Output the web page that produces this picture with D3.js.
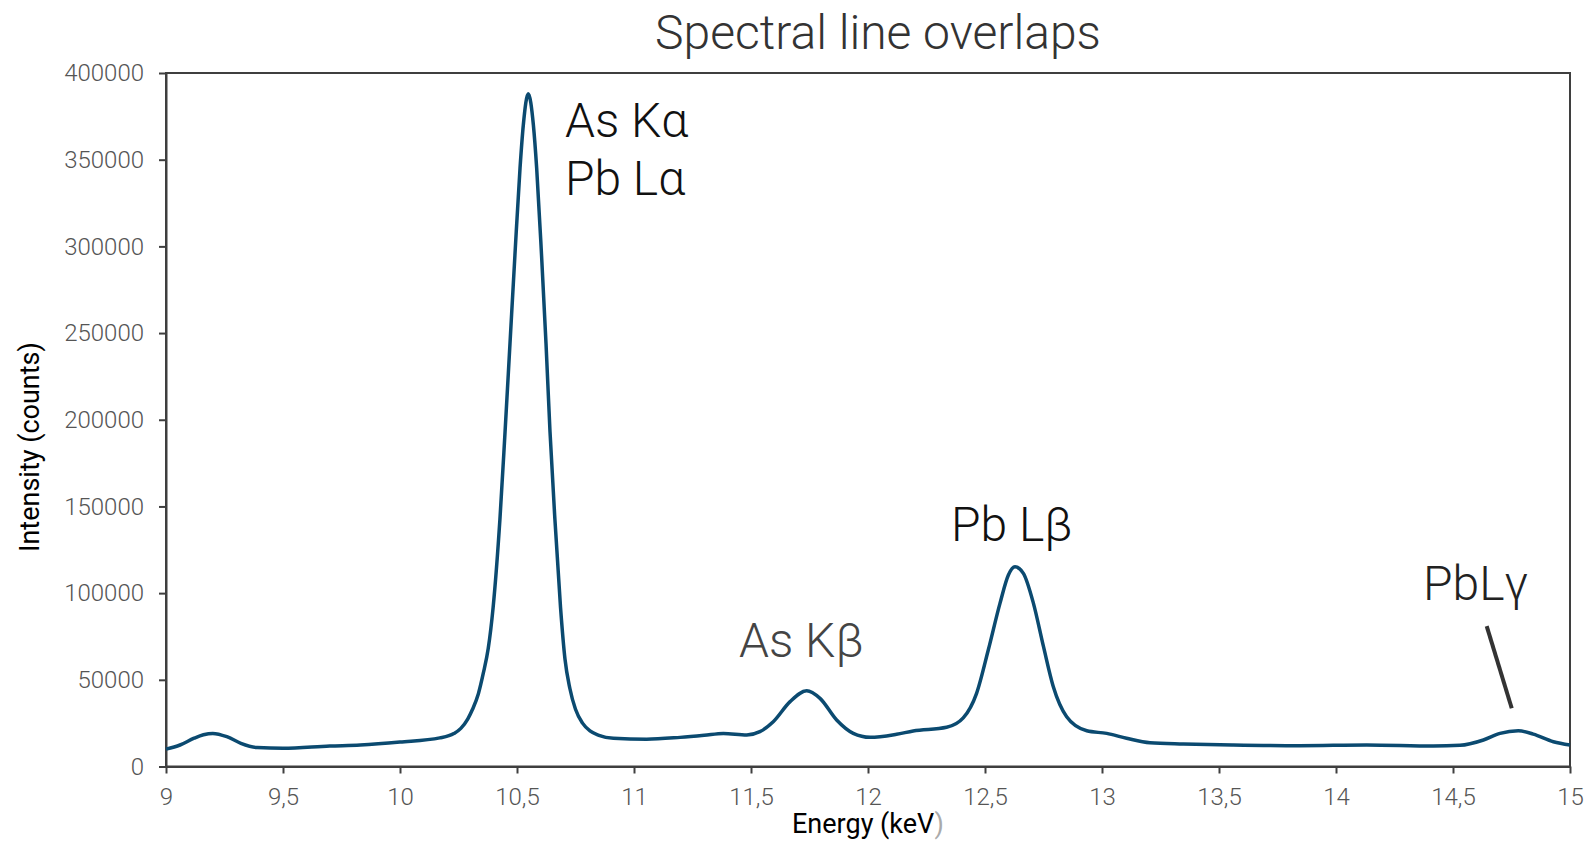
<!DOCTYPE html>
<html>
<head>
<meta charset="utf-8">
<script src="https://cdn.jsdelivr.net/npm/d3@7"></script>
<style>
  html, body { margin: 0; padding: 0; background: #fff; }
  svg { display: block; font-family: Roboto, "Noto Sans", sans-serif; }
</style>
</head>
<body>
<svg id="chart" width="1587" height="842"></svg>
<script>
// Measured XRF spectrum: energy (keV) and intensity (counts)
const energy = [
  9.00, 9.06, 9.12, 9.16, 9.20, 9.26, 9.32, 9.39, 9.50, 9.70, 9.83, 10.00,
  10.17, 10.23, 10.26, 10.29, 10.31, 10.335, 10.356, 10.377, 10.398, 10.427,
  10.449, 10.47, 10.491, 10.513, 10.527, 10.548, 10.570, 10.584, 10.605,
  10.624, 10.641, 10.662, 10.686, 10.705, 10.726, 10.75, 10.78, 10.812,
  10.85, 10.912, 11.054, 11.197, 11.30, 11.382, 11.482, 11.538, 11.595,
  11.667, 11.738, 11.795, 11.866, 11.937, 12.009, 12.122, 12.193, 12.336,
  12.407, 12.464, 12.514, 12.564, 12.600, 12.628, 12.664, 12.707, 12.750,
  12.792, 12.849, 12.935, 13.02, 13.105, 13.205, 13.348, 13.561, 13.846,
  14.131, 14.416, 14.53, 14.63, 14.701, 14.779, 14.843, 14.929, 15.00
];
const counts = [
  10000, 12400, 16300, 18300, 19100, 17200, 13400, 10900, 10500, 11800, 12400, 14100,
  16500, 19000, 22000, 27500, 33000, 42000, 53800, 68000, 91800, 142500,
  193200, 243900, 294600, 345300, 370000, 388000, 370000, 345300, 294600,
  243900, 193200, 142500, 91800, 62000, 45000, 33000, 25000, 20500,
  18000, 16300, 15700, 16800, 18000, 19100, 18200, 20100, 25800,
  37400, 43700, 39300, 26800, 19100, 16800, 18600, 20500, 22600,
  28000, 42200, 67200, 94100, 110500, 115200, 111400, 94100, 69100,
  46000, 28700, 20600, 19100, 16300, 13700, 13000, 12400, 12000,
  12400, 11800, 12200, 15300, 19100, 20600, 18700, 14300, 12400
];

const xTicks = [9, 9.5, 10, 10.5, 11, 11.5, 12, 12.5, 13, 13.5, 14, 14.5, 15];
const yTicks = [0, 50000, 100000, 150000, 200000, 250000, 300000, 350000, 400000];

// Peak labels: text lines, anchor energy and intensity for the first baseline
const peakLabels = [
  { lines: ["As Kα", "Pb Lα"], e: 10.705, c: 363000, color: "#111" },
  { lines: ["As Kβ"], e: 11.449, c: 63000, color: "#444" },
  { lines: ["Pb Lβ"], e: 12.355, c: 130000, color: "#111" },
  { lines: ["PbLγ"], e: 14.372, c: 96000, color: "#222" }
];
// Leader line pointing at the PbLγ peak
const leader = { from: [14.644, 81000], to: [14.751, 33600] };

const svg = d3.select("#chart");
const x = d3.scaleLinear().domain([9, 15]).range([166, 1570]);
const y = d3.scaleLinear().domain([0, 400000]).range([766.5, 73]);

const fmtX = d => String(d).replace(".", ",");

// Frame around the plot area
svg.append("rect")
  .attr("x", x(9)).attr("y", y(400000))
  .attr("width", x(15) - x(9)).attr("height", y(0) - y(400000))
  .attr("fill", "none").attr("stroke", "#3f3f3f").attr("stroke-width", 2);

const xAxis = svg.append("g")
  .attr("transform", `translate(0,${y(0)})`)
  .call(d3.axisBottom(x).tickValues(xTicks).tickFormat(fmtX).tickSize(7).tickPadding(14).tickSizeOuter(0));
const yAxis = svg.append("g")
  .attr("transform", `translate(${x(9)},0)`)
  .call(d3.axisLeft(y).tickValues(yTicks).tickFormat(d3.format("d")).tickSize(7).tickPadding(15).tickSizeOuter(0));

[xAxis, yAxis].forEach(g => {
  g.select(".domain").attr("stroke", "#3f3f3f").attr("stroke-width", 2);
  g.selectAll(".tick line").attr("stroke", "#3f3f3f").attr("stroke-width", 2);
  g.selectAll(".tick text")
    .attr("fill", "#555").style("font-size", "24px").style("font-weight", 300)
    .style("font-family", "Roboto, sans-serif");
});

// Spectrum line
const line = d3.line()
  .x((d, i) => x(energy[i]))
  .y(d => y(d))
  .curve(d3.curveMonotoneX);
svg.append("path")
  .datum(counts)
  .attr("fill", "none")
  .attr("stroke", "#0b4a70")
  .attr("stroke-width", 3.5)
  .attr("stroke-linejoin", "round")
  .attr("d", line);

// Title
svg.append("text")
  .attr("x", 878).attr("y", 49)
  .attr("text-anchor", "middle")
  .attr("fill", "#333")
  .style("font-size", "48px").style("font-weight", 300)
  .text("Spectral line overlaps");

// Axis titles
const xTitle = svg.append("text")
  .attr("x", x(12)).attr("y", 833)
  .attr("text-anchor", "middle")
  .attr("fill", "#000")
  .style("font-size", "27px");
xTitle.append("tspan").text("Energy (keV");
xTitle.append("tspan").attr("fill", "#aaa").text(")");

svg.append("text")
  .attr("transform", `translate(39,447) rotate(-90)`)
  .attr("text-anchor", "middle")
  .attr("fill", "#000")
  .style("font-size", "27px")
  .text("Intensity (counts)");

// Peak annotations
peakLabels.forEach(p => {
  const t = svg.append("text")
    .attr("x", x(p.e)).attr("y", y(p.c))
    .attr("fill", p.color)
    .style("font-size", "48px").style("font-weight", 300);
  p.lines.forEach((s, i) => {
    t.append("tspan").attr("x", x(p.e)).attr("dy", i === 0 ? 0 : 58).text(s);
  });
});

svg.append("line")
  .attr("x1", x(leader.from[0])).attr("y1", y(leader.from[1]))
  .attr("x2", x(leader.to[0])).attr("y2", y(leader.to[1]))
  .attr("stroke", "#333").attr("stroke-width", 4);
</script>
</body>
</html>
